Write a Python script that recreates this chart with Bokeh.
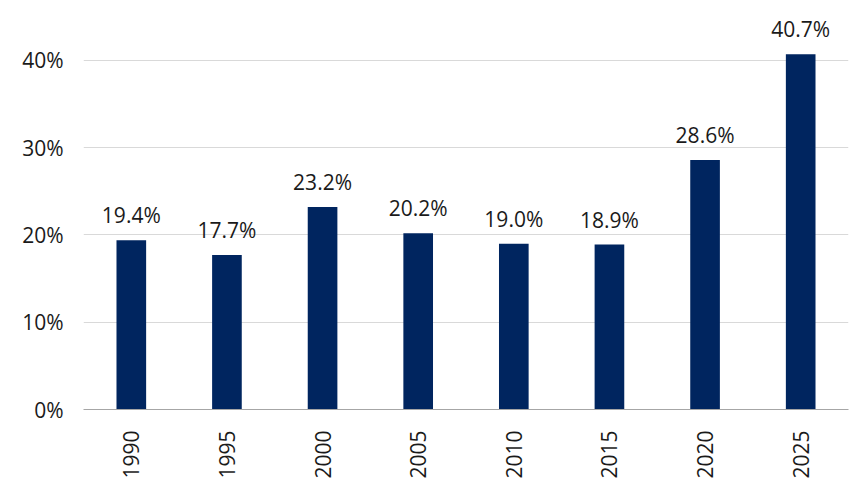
import math
from bokeh.plotting import figure
from bokeh.models import ColumnDataSource, Range1d, FactorRange, CustomJSTickFormatter, FixedTicker
from bokeh.core.properties import value
from bokeh.embed import file_html
from bokeh.resources import INLINE

years = ["1990", "1995", "2000", "2005", "2010", "2015", "2020", "2025"]
shares = [19.4, 17.7, 23.2, 20.2, 19.0, 18.9, 28.6, 40.7]
labels = [f"{v:.1f}%" for v in shares]
y_ticks = [0, 10, 20, 30, 40]

FONT = "Open Sans"
TEXT_COLOR = "#1a1a1a"
BAR_COLOR = "#00255f"

src = ColumnDataSource(dict(year=years, share=shares, label=labels))

p = figure(width=857, height=484, output_backend="svg", toolbar_location=None,
           x_range=FactorRange(*years, range_padding=0),
           y_range=Range1d(0, 44.8),
           min_border_left=83, min_border_right=9, min_border_top=18, min_border_bottom=75)
p.outline_line_color = None
p.background_fill_color = None
p.border_fill_color = None

p.vbar(x="year", top="share", width=0.31, source=src, fill_color=BAR_COLOR, line_color=None)
p.text(x="year", y="share", text="label", source=src, text_align="center",
       text_baseline="alphabetic", y_offset=-25, text_font=value(FONT),
       text_font_size="21px", text_color=TEXT_COLOR)

p.xgrid.grid_line_color = None
p.ygrid.grid_line_color = "#d9d9d9"
p.ygrid.grid_line_width = 1
p.yaxis.ticker = FixedTicker(ticks=y_ticks)
p.yaxis.formatter = CustomJSTickFormatter(code="return tick.toFixed(0) + '%';")
p.yaxis.axis_line_color = None
p.yaxis.major_tick_line_color = None
p.yaxis.minor_tick_line_color = None
p.yaxis.major_label_standoff = 14
p.yaxis.major_label_text_font = FONT
p.yaxis.major_label_text_font_size = "21px"
p.yaxis.major_label_text_color = TEXT_COLOR

p.xaxis.axis_line_color = "#a6a6a6"
p.xaxis.axis_line_width = 1
p.xaxis.major_tick_line_color = None
p.xaxis.minor_tick_line_color = None
p.xaxis.major_label_orientation = math.pi / 2
p.xaxis.major_label_standoff = 15
p.xaxis.major_label_text_font = FONT
p.xaxis.major_label_text_font_size = "21px"
p.xaxis.major_label_text_color = TEXT_COLOR

open("out.html", "w").write(file_html(p, INLINE))
